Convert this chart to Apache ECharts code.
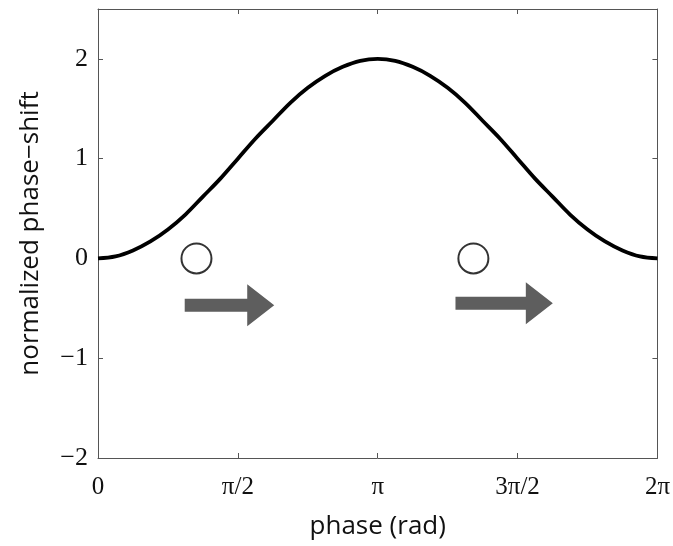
<!DOCTYPE html>
<html>
<head>
<meta charset="utf-8">
<title>normalized phase-shift</title>
<script src="https://cdn.jsdelivr.net/npm/echarts@6/dist/echarts.min.js"></script>
<style>
  html, body { margin: 0; padding: 0; background: #fff; }
  #chart { width: 673px; height: 546px; }
</style>
</head>
<body>
<div id="chart"></div>
<script>
// phase in units of pi, sampled every pi/16
var phase = [0, 0.0625, 0.125, 0.1875, 0.25, 0.3125, 0.375, 0.4375, 0.5,
  0.5625, 0.625, 0.6875, 0.75, 0.8125, 0.875, 0.9375, 1,
  1.0625, 1.125, 1.1875, 1.25, 1.3125, 1.375, 1.4375, 1.5,
  1.5625, 1.625, 1.6875, 1.75, 1.8125, 1.875, 1.9375, 2];
var shift = [0, 0.02, 0.08, 0.17, 0.29, 0.44, 0.62, 0.80, 1.0,
  1.20, 1.38, 1.56, 1.71, 1.83, 1.92, 1.98, 2.0,
  1.98, 1.92, 1.83, 1.71, 1.56, 1.38, 1.20, 1.0,
  0.80, 0.62, 0.44, 0.29, 0.17, 0.08, 0.02, 0];

// open circles on the zero line
var circles = [[0.352, 0], [1.342, 0]];
// arrows: [tail, tip, y]
var arrows = [[0.310, 0.630, -0.47], [1.278, 1.626, -0.45]];

var xTickLabels = ['0', 'π/2', 'π', '3π/2', '2π'];
var yTicks = [-2, -1, 0, 1, 2];

var serif = '"Liberation Serif", "DejaVu Serif", serif';
var sans = '"Open Sans", "Noto Sans", sans-serif';
var axisCol = '#555';

var chart = echarts.init(document.getElementById('chart'));

function xLab(v) {
  var i = Math.round(v * 2);
  return Math.abs(v * 2 - i) < 1e-6 && xTickLabels[i] !== undefined ? xTickLabels[i] : '';
}
function yLab(v) {
  return yTicks.indexOf(v) >= 0 ? String(v).replace('-', '−') : '';
}

var baseX = {
  type: 'value', min: 0, max: 2, interval: 0.5,
  axisLine: { show: true, onZero: false, lineStyle: { color: axisCol, width: 1 } },
  axisTick: { show: true, inside: true, length: 5, lineStyle: { color: axisCol } },
  splitLine: { show: false }
};
var baseY = {
  type: 'value', min: -2, max: 2.5, interval: 1,
  axisLine: { show: true, onZero: false, lineStyle: { color: axisCol, width: 1 } },
  axisTick: { show: true, inside: true, length: 5, lineStyle: { color: axisCol } },
  splitLine: { show: false }
};

var option = {
  animation: false,
  textStyle: { fontFamily: serif },
  grid: { left: 98, top: 9, right: 13, bottom: 88, containLabel: false },
  xAxis: [
    Object.assign({}, baseX, {
      position: 'bottom',
      name: 'phase (rad)', nameLocation: 'middle', nameGap: 56,
      nameTextStyle: { fontFamily: sans, fontSize: 26, color: '#111' },
      axisLabel: { formatter: xLab, margin: 17, fontFamily: serif, fontSize: 25, color: '#111' }
    }),
    Object.assign({}, baseX, { position: 'top', axisLabel: { show: false } })
  ],
  yAxis: [
    Object.assign({}, baseY, {
      position: 'left',
      name: 'normalized phase−shift', nameLocation: 'middle', nameGap: 54,
      nameTextStyle: { fontFamily: sans, fontSize: 26, color: '#111' },
      axisLabel: { formatter: yLab, margin: 10, fontFamily: serif, fontSize: 26, color: '#111' }
    }),
    Object.assign({}, baseY, { position: 'right', axisLabel: { show: false } })
  ],
  series: [
    {
      type: 'line',
      data: phase.map(function (p, i) { return [p, shift[i]]; }),
      smooth: 0.35,
      showSymbol: false,
      lineStyle: { color: '#000', width: 3.8 },
      z: 2
    },
    {
      type: 'scatter',
      data: circles,
      symbol: 'circle',
      symbolSize: 30,
      itemStyle: { color: '#fff', borderColor: '#000', borderWidth: 2 },
      z: 3
    },
    {
      type: 'custom',
      data: arrows,
      encode: { x: [0, 1], y: 2 },
      renderItem: function (params, api) {
        var a = api.coord([api.value(0), api.value(2)]);
        var b = api.coord([api.value(1), api.value(2)]);
        var head = 27, half = 6.5, hh = 21;
        var neck = b[0] - head;
        var y = a[1];
        return {
          type: 'polygon',
          shape: { points: [
            [a[0], y - half], [neck, y - half], [neck, y - hh], [b[0], y],
            [neck, y + hh], [neck, y + half], [a[0], y + half]
          ] },
          style: { fill: '#5e5e5e' }
        };
      },
      z: 3
    }
  ]
};

chart.setOption(option);
window.addEventListener('resize', chart.resize);
</script>
</body>
</html>
